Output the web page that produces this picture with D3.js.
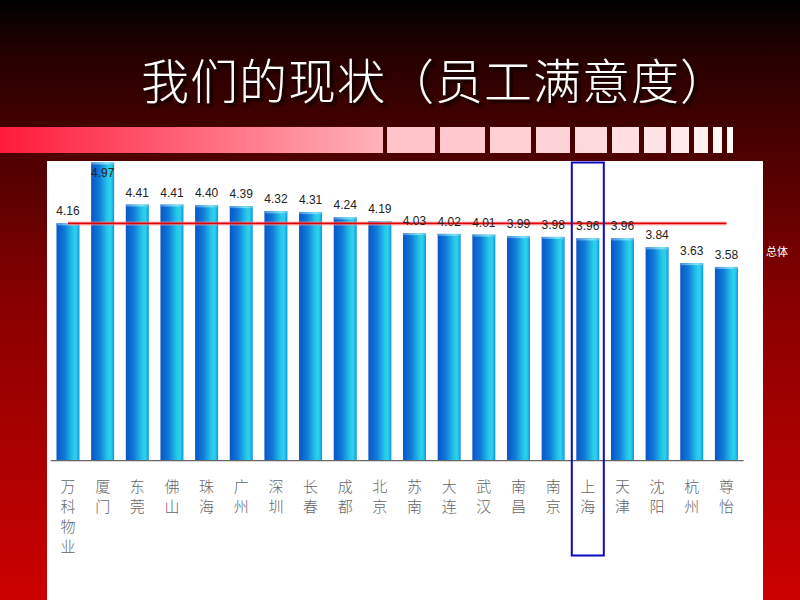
<!DOCTYPE html>
<html><head><meta charset="utf-8">
<script src="https://cdn.jsdelivr.net/npm/d3@7"></script>
<style>html,body{margin:0;padding:0;background:#000;}svg{display:block;}</style>
</head><body>
<script>
const categories = ["万科物业","厦门","东莞","佛山","珠海","广州","深圳","长春","成都","北京","苏南","大连","武汉","南昌","南京","上海","天津","沈阳","杭州","尊怡"];
const values = [4.16,4.97,4.41,4.41,4.40,4.39,4.32,4.31,4.24,4.19,4.03,4.02,4.01,3.99,3.98,3.96,3.96,3.84,3.63,3.58];
const valueLabels = ["4.16","4.97","4.41","4.41","4.40","4.39","4.32","4.31","4.24","4.19","4.03","4.02","4.01","3.99","3.98","3.96","3.96","3.84","3.63","3.58"];
const overallValue = [4.16];
const overallLabel = ["总体"];
const highlight = ["上海"];
const title = "我们的现状（员工满意度）";
const yDomain = [1, 5];

const W = 800, H = 600;
const svg = d3.select("body").append("svg").attr("width", W).attr("height", H);
const defs = svg.append("defs");

// background gradient
const bg = defs.append("linearGradient").attr("id","bg").attr("x1",0).attr("y1",0).attr("x2",0).attr("y2",1);
[[0,"#000000"],[0.1,"#280000"],[0.25,"#4c0000"],[0.5,"#880000"],[1,"#cc0000"]].forEach(s=>bg.append("stop").attr("offset",s[0]).attr("stop-color",s[1]));
svg.append("rect").attr("width",W).attr("height",H).attr("fill","url(#bg)");

// decorative strip
const sg = defs.append("linearGradient").attr("id","strip").attr("x1",0).attr("x2",1).attr("y1",0).attr("y2",0);
sg.append("stop").attr("offset",0).attr("stop-color","#ff1a3a");
sg.append("stop").attr("offset",1).attr("stop-color","#ffb2ba");
svg.append("rect").attr("x",0).attr("y",127).attr("width",383).attr("height",26).attr("fill","url(#strip)");
const blocks = [[387,435],[440,485],[490,531],[536,570],[575,607],[612,639],[644,666],[671,689],[694,708],[713,722],[727,733]];
const bc = d3.interpolateRgb("#ffc4ca","#fffafa");
svg.selectAll("rect.blk").data(blocks).join("rect").attr("class","blk")
  .attr("x",d=>d[0]).attr("y",127).attr("width",d=>d[1]-d[0]).attr("height",26)
  .attr("fill",(d,i)=>bc(i/(blocks.length-1)));

// title with drop shadow
const f = defs.append("filter").attr("id","tshadow").attr("x","-5%").attr("y","-20%").attr("width","110%").attr("height","140%");
f.append("feDropShadow").attr("dx",3).attr("dy",3).attr("stdDeviation",0.8).attr("flood-color","#100000").attr("flood-opacity",1);
svg.append("text").attr("x",141).attr("y",99).attr("fill","#ffffff")
  .attr("font-family","'Noto Sans CJK SC', sans-serif").attr("font-size",48).attr("font-weight",300)
  .attr("letter-spacing",1).attr("filter","url(#tshadow)").text(title);

// overall label (on the red background)
svg.append("text").attr("x",766).attr("y",256).attr("fill","#ffffff")
  .attr("font-family","'Noto Sans CJK SC', sans-serif").attr("font-size",11).text(overallLabel[0]);

// white panel
svg.append("rect").attr("x",47).attr("y",161).attr("width",716).attr("height",439).attr("fill","#ffffff");

// scales
const x = d3.scaleBand().domain(categories).range([50.7, 743.7]).paddingInner(0.336).paddingOuter(0.167);
const y = d3.scaleLinear().domain(yDomain).range([460.7, 160.3]);

// bar gradient
const bgr = defs.append("linearGradient").attr("id","bar").attr("x1",0).attr("x2",1).attr("y1",0).attr("y2",0);
[[0,"#0856c8"],[0.35,"#0f7ad8"],[0.72,"#27c8ea"],[0.85,"#2ad4ec"],[1,"#1592dc"]].forEach(s=>bgr.append("stop").attr("offset",s[0]).attr("stop-color",s[1]));
const capg = defs.append("linearGradient").attr("id","cap").attr("x1",0).attr("x2",1).attr("y1",0).attr("y2",0);
[[0,"#4a8ee0"],[0.7,"#7ee4f4"],[1,"#5ab8e8"]].forEach(s=>capg.append("stop").attr("offset",s[0]).attr("stop-color",s[1]));

const data = categories.map((c,i)=>({c, v: values[i], l: valueLabels[i]}));
svg.selectAll("rect.bar").data(data).join("rect").attr("class","bar")
  .attr("x",d=>x(d.c)).attr("y",d=>y(d.v)).attr("width",x.bandwidth()).attr("height",d=>y(yDomain[0])-y(d.v))
  .attr("fill","url(#bar)");
svg.selectAll("rect.cap").data(data).join("rect").attr("class","cap")
  .attr("x",d=>x(d.c)).attr("y",d=>y(d.v)).attr("width",x.bandwidth()).attr("height",2)
  .attr("fill","url(#cap)");

// baseline
svg.append("line").attr("x1",x.range()[0]).attr("x2",x.range()[1]).attr("y1",y(yDomain[0])).attr("y2",y(yDomain[0]))
  .attr("stroke","#666").attr("stroke-width",1.2);

// overall line
const lx1 = x(categories[0]) + x.bandwidth()/2, lx2 = x(categories[categories.length-1]) + x.bandwidth()/2;
svg.append("line").attr("x1",lx1).attr("x2",lx2).attr("y1",y(overallValue[0])).attr("y2",y(overallValue[0]))
  .attr("stroke","#ff9aa0").attr("stroke-width",4).attr("opacity",0.6);
svg.append("line").attr("x1",lx1).attr("x2",lx2).attr("y1",y(overallValue[0])).attr("y2",y(overallValue[0]))
  .attr("stroke","#e00000").attr("stroke-width",1.8);

// value labels
svg.selectAll("text.val").data(data).join("text").attr("class","val")
  .attr("x",d=>x(d.c)+x.bandwidth()/2).attr("y",d=>Math.max(y(d.v)-8, 177))
  .attr("text-anchor","middle").attr("font-family","'Liberation Sans', Arial, sans-serif").attr("font-size",12)
  .attr("fill","#222").text(d=>d.l);

// category labels (vertical stacked)
const cl = svg.selectAll("text.cat").data(data).join("text").attr("class","cat")
  .attr("text-anchor","middle").attr("font-family","'Noto Sans CJK SC', sans-serif").attr("font-size",15)
  .attr("font-weight",300).attr("fill","#666");
cl.each(function(d){
  const t = d3.select(this);
  Array.from(d.c).forEach((ch,k)=>{
    t.append("tspan").attr("x",x(d.c)+x.bandwidth()/2).attr("y",492+k*20).text(ch);
  });
});

// highlight box
svg.selectAll("rect.hl").data(highlight).join("rect").attr("class","hl")
  .attr("x",d=>x(d)-4.5).attr("y",162.5).attr("width",x.bandwidth()+9).attr("height",393)
  .attr("fill","none").attr("stroke","#0a0ac0").attr("stroke-width",2);
</script>
</body></html>
